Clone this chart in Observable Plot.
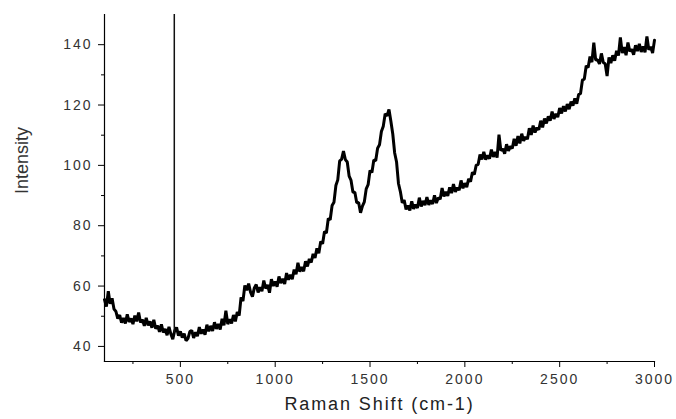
<!DOCTYPE html>
<html>
<head>
<meta charset="utf-8">
<script src="https://cdn.jsdelivr.net/npm/d3@7"></script>
<script src="https://cdn.jsdelivr.net/npm/@observablehq/plot@0.6"></script>
<style>
  html, body { margin: 0; padding: 0; background: #fff; }
  #chart svg { display: block; }
  g[aria-label="x-axis tick label"] text { letter-spacing: 2px; }
  g[aria-label="y-axis tick label"] text { letter-spacing: 2px; }
  g.xtitle text { letter-spacing: 1.9px; }
</style>
</head>
<body>
<div id="chart"></div>
<script>
const shift = [
  100,110,120,130,140,150,160,170,180,190,200,210,220,230,240,250,260,270,280,290,
  300,310,320,330,340,350,360,370,380,390,400,410,420,430,440,450,460,470,480,490,
  500,510,520,530,540,550,560,570,580,590,600,610,620,630,640,650,660,670,680,690,
  700,710,720,730,740,750,760,770,780,790,800,810,820,830,840,850,860,870,880,890,
  900,910,920,930,940,950,960,970,980,990,1000,1010,1020,1030,1040,1050,1060,1070,1080,1090,
  1100,1110,1120,1130,1140,1150,1160,1170,1180,1190,1200,1210,1220,1230,1240,1250,1260,1270,1280,1290,
  1300,1310,1320,1330,1340,1350,1360,1370,1380,1390,1400,1410,1420,1430,1440,1450,1460,1470,1480,1490,
  1500,1510,1520,1530,1540,1550,1560,1570,1580,1590,1600,1610,1620,1630,1640,1650,1660,1670,1680,1690,
  1700,1710,1720,1730,1740,1750,1760,1770,1780,1790,1800,1810,1820,1830,1840,1850,1860,1870,1880,1890,
  1900,1910,1920,1930,1940,1950,1960,1970,1980,1990,2000,2010,2020,2030,2040,2050,2060,2070,2080,2090,
  2100,2110,2120,2130,2140,2150,2160,2170,2180,2190,2200,2210,2220,2230,2240,2250,2260,2270,2280,2290,
  2300,2310,2320,2330,2340,2350,2360,2370,2380,2390,2400,2410,2420,2430,2440,2450,2460,2470,2480,2490,
  2500,2510,2520,2530,2540,2550,2560,2570,2580,2590,2600,2610,2620,2630,2640,2650,2660,2670,2680,2690,
  2700,2710,2720,2730,2740,2750,2760,2770,2780,2790,2800,2810,2820,2830,2840,2850,2860,2870,2880,2890,
  2900,2910,2920,2930,2940,2950,2960,2970,2980,2990,3000
];
const intensity = [
  55.5,53.2,58.3,54.1,56.0,52.4,51.6,49.2,50.4,47.9,49.4,47.6,50.6,48.1,49.3,47.4,50.2,48.3,51.2,47.9,
  48.9,46.8,49.5,47.0,48.3,46.2,48.8,45.9,46.9,44.8,47.3,44.6,45.8,43.7,46.5,44.1,42.4,45.2,46.3,43.6,
  45.0,42.9,44.2,41.9,42.6,44.9,45.3,42.8,44.7,43.4,46.4,44.2,45.6,43.9,47.2,45.0,46.8,45.1,48.0,45.8,
  47.4,45.6,49.2,47.0,51.8,47.4,49.0,47.6,50.4,48.3,51.4,50.2,56.2,55.0,60.2,58.6,60.8,58.0,56.5,59.4,
  60.5,57.9,59.6,58.3,61.8,59.2,60.4,57.8,62.3,60.1,61.5,59.8,63.2,61.0,62.4,60.7,64.3,62.1,63.7,62.3,
  65.5,63.9,67.7,64.8,66.3,64.9,68.2,66.5,69.0,67.8,70.7,69.3,72.5,70.9,74.8,74.0,78.1,77.6,82.4,82.0,
  86.7,87.8,93.3,95.2,101.5,102.0,104.7,101.9,101.1,96.4,95.0,91.1,91.1,87.6,87.7,84.3,86.5,87.9,92.2,93.6,
  98.3,97.6,101.8,101.5,105.7,106.8,111.2,113.0,117.1,116.4,118.5,114.6,110.4,104.1,101.1,94.0,91.3,87.6,88.5,85.4,
  86.7,85.1,88.1,85.6,87.0,85.9,89.3,86.4,88.2,86.8,89.5,86.9,88.4,87.2,90.1,87.5,89.3,88.8,92.5,89.7,
  91.2,89.9,92.7,90.8,93.8,91.2,92.6,91.8,95.0,92.4,94.1,92.8,95.5,94.6,97.7,97.0,100.1,100.3,103.6,102.0,
  104.5,101.9,103.3,102.2,105.2,102.8,104.4,102.6,110.2,104.9,105.5,103.9,107.0,104.8,106.3,105.6,108.8,106.5,109.7,107.3,
  110.5,108.1,109.4,108.7,112.3,110.1,113.2,110.9,112.5,111.8,114.8,112.6,115.5,113.9,116.2,114.8,117.8,115.4,117.1,116.0,
  119.0,117.2,119.6,117.9,120.3,118.6,121.1,119.8,122.2,120.4,123.5,123.8,128.3,128.6,133.0,132.4,136.1,134.2,140.7,134.9,
  135.0,133.6,137.1,134.1,133.7,129.6,135.8,133.9,136.5,134.7,138.0,136.4,142.4,137.2,139.2,136.5,140.7,137.8,138.5,136.7,
  139.8,137.9,140.3,137.6,139.4,137.5,142.7,138.3,139.3,137.2,141.5
];
const xMajorTicks = [500, 1000, 1500, 2000, 2500, 3000];
const xMinorTicks = [250, 750, 1250, 1750, 2250, 2750];
const yMajorTicks = [40, 60, 80, 100, 120, 140];
const yMinorTicks = [50, 70, 90, 110, 130];
const markerLine = [{x: 468, y1: 44.5, y2: 150}];
const xTitle = "Raman Shift (cm-1)";
const yTitle = "Intensity";

const data = shift.map((s, i) => ({shift: s, intensity: intensity[i]}));

const font = "'Liberation Sans', Arial, sans-serif";

const chart = Plot.plot({
  width: 676,
  height: 419,
  marginLeft: 104,
  marginRight: 22,
  marginTop: 14,
  marginBottom: 58,
  style: {fontFamily: font, background: "#fff", color: "#000"},
  x: {domain: [100, 3000]},
  y: {domain: [35, 150]},
  marks: [
    Plot.line(data, {x: "shift", y: "intensity", stroke: "#000", strokeWidth: 3, strokeLinejoin: "miter"}),
    Plot.ruleX(markerLine, {x: "x", y1: "y1", y2: "y2", stroke: "#111", strokeWidth: 1.5}),
    Plot.frame({anchor: "left", stroke: "#000", strokeWidth: 1.2}),
    Plot.frame({anchor: "bottom", stroke: "#000", strokeWidth: 1.2}),
    Plot.axisX({ticks: xMajorTicks, tickSize: 6, tickPadding: 7, tickFormat: d3.format("d"), fontSize: 14, fill: "#333", label: null}),
    Plot.axisX({ticks: xMinorTicks, tickSize: 3, text: null, label: null}),
    Plot.axisY({ticks: yMajorTicks, tickSize: 6, tickPadding: 6, tickFormat: d3.format("d"), fontSize: 14, fill: "#333", label: null}),
    Plot.axisY({ticks: yMinorTicks, tickSize: 3, text: null, label: null}),
    Plot.text([xTitle], {text: d => d, frameAnchor: "bottom", dy: 48, fontSize: 18, fill: "#222", className: "xtitle"}),
    Plot.text([yTitle], {text: d => d, frameAnchor: "left", dx: -82, dy: 6, rotate: -90, fontSize: 18, fill: "#333"})
  ]
});
document.getElementById("chart").appendChild(chart);
</script>
</body>
</html>
